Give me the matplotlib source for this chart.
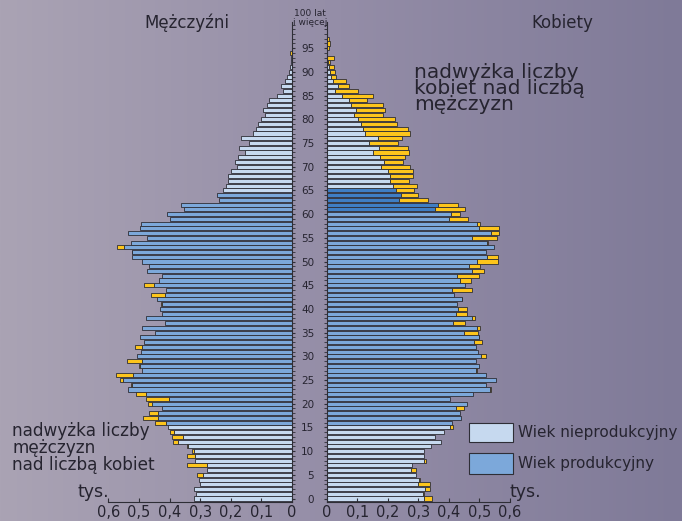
import numpy as np
import matplotlib.pyplot as plt
from matplotlib.colors import LinearSegmentedColormap

# --- DONNEES (tys. osób), wiek 0..97 ---
ages = np.arange(0, 98)

men = [0.320, 0.315, 0.321, 0.300, 0.303, 0.309, 0.277, 0.342, 0.317, 0.342,
       0.328, 0.342, 0.390, 0.393, 0.400, 0.404, 0.448, 0.488, 0.466, 0.424,
       0.470, 0.478, 0.508, 0.535, 0.527, 0.562, 0.575, 0.490, 0.500, 0.540,
       0.505, 0.494, 0.514, 0.483, 0.497, 0.448, 0.491, 0.415, 0.477, 0.423,
       0.431, 0.428, 0.442, 0.459, 0.410, 0.484, 0.436, 0.426, 0.475, 0.467,
       0.491, 0.524, 0.524, 0.570, 0.526, 0.474, 0.537, 0.498, 0.493, 0.400,
       0.408, 0.353, 0.364, 0.237, 0.244, 0.227, 0.217, 0.208, 0.208, 0.200,
       0.179, 0.186, 0.175, 0.153, 0.172, 0.139, 0.168, 0.126, 0.119, 0.111,
       0.102, 0.088, 0.096, 0.081, 0.074, 0.050, 0.028, 0.037, 0.022, 0.015,
       0.011, 0.008, 0.004, 0.002, 0.007, 0.000, 0.000, 0.000]

women = [0.345, 0.319, 0.338, 0.338, 0.305, 0.291, 0.291, 0.278, 0.325, 0.317,
         0.319, 0.341, 0.373, 0.356, 0.385, 0.414, 0.411, 0.439, 0.437, 0.449,
         0.458, 0.403, 0.478, 0.538, 0.521, 0.553, 0.520, 0.493, 0.497, 0.489,
         0.523, 0.494, 0.489, 0.509, 0.498, 0.494, 0.502, 0.452, 0.485, 0.460,
         0.458, 0.426, 0.444, 0.416, 0.476, 0.452, 0.471, 0.497, 0.515, 0.502,
         0.560, 0.562, 0.523, 0.549, 0.527, 0.557, 0.563, 0.563, 0.502, 0.461,
         0.436, 0.454, 0.430, 0.332, 0.300, 0.285, 0.294, 0.270, 0.281, 0.284,
         0.272, 0.251, 0.255, 0.268, 0.267, 0.232, 0.248, 0.273, 0.265, 0.231,
         0.222, 0.184, 0.192, 0.183, 0.133, 0.152, 0.103, 0.072, 0.062, 0.030,
         0.028, 0.024, 0.011, 0.024, 0.000, 0.008, 0.011, 0.007]

age_ticks = list(range(0, 100, 5))
x_ticks = [0, 0.1, 0.2, 0.3, 0.4, 0.5, 0.6]
x_labels = ['0', '0,1', '0,2', '0,3', '0,4', '0,5', '0,6']

# granice grup wieku (jak na rysunku)
PROD_START = 16
MEN_PROD_END = 64
WOMEN_PROD_END = 60

# --- KOLORY ---
C_LIGHT = '#c6d9ef'
C_PROD = '#7ca8da'
C_DARK = '#3f7ec4'
C_YELLOW = '#fdc51c'
C_EDGE = '#2e2e36'
C_TEXT = '#262430'

W_PX, H_PX = 682, 521
fig = plt.figure(figsize=(W_PX / 100, H_PX / 100), dpi=100)

# tło z gradientem
bg = fig.add_axes([0, 0, 1, 1], zorder=-5)
grad = np.linspace(0, 1, 256).reshape(1, -1)
cmap_bg = LinearSegmentedColormap.from_list('bg', ['#aaa3b4', '#948da7', '#7f7a98'])
bg.imshow(grad, aspect='auto', cmap=cmap_bg, extent=[0, 1, 0, 1])
bg.axis('off')

men = np.array(men)
women = np.array(women)
common = np.minimum(men, women)
men_extra = men - common
women_extra = women - common

men_cols = [C_PROD if PROD_START <= a <= MEN_PROD_END else C_LIGHT for a in ages]
women_cols = []
for a in ages:
    if PROD_START <= a <= WOMEN_PROD_END:
        women_cols.append(C_PROD)
    elif WOMEN_PROD_END < a <= MEN_PROD_END + 1:
        women_cols.append(C_DARK)
    else:
        women_cols.append(C_LIGHT)


def px_box(x0, x1, y_top, y_bot):
    return [x0 / W_PX, 1 - y_bot / H_PX, (x1 - x0) / W_PX, (y_bot - y_top) / H_PX]


y_top, y_bot = 22, 501.5
ax_l = fig.add_axes(px_box(108.3, 292, y_top, y_bot))
ax_r = fig.add_axes(px_box(326.7, 510, y_top, y_bot))

bar_h = 0.86
for ax, vals, extra, cols in [(ax_l, common, men_extra, men_cols),
                              (ax_r, common, women_extra, women_cols)]:
    ax.set_facecolor('none')
    ax.barh(ages, vals, height=bar_h, color=cols, edgecolor=C_EDGE, linewidth=0.6)
    m = extra > 0.0005
    ax.barh(ages[m], extra[m], left=vals[m], height=bar_h, color=C_YELLOW,
            edgecolor=C_EDGE, linewidth=0.6)
    ax.set_ylim(-0.63, 100.53)
    ax.set_xticks(x_ticks)
    ax.set_xticklabels(x_labels, fontsize=10.5, color=C_TEXT)
    ax.tick_params(axis='x', direction='in', length=3, pad=2.5, color=C_EDGE)
    ax.set_yticks(age_ticks)
    ax.set_yticks(range(0, 101), minor=True)
    for s in ax.spines.values():
        s.set_color(C_EDGE)
        s.set_linewidth(0.8)
    ax.spines['top'].set_visible(False)

ax_l.set_xlim(0.6, 0)
ax_l.spines['left'].set_visible(False)
ax_l.yaxis.tick_right()
ax_l.tick_params(axis='y', which='both', direction='out', length=2, color=C_EDGE,
                 labelright=False)

ax_r.set_xlim(0, 0.6)
ax_r.spines['right'].set_visible(False)
ax_r.set_yticklabels([str(a) for a in age_ticks], fontsize=7.5, color=C_TEXT)
ax_r.tick_params(axis='y', which='both', direction='out', length=2, pad=7, color=C_EDGE)

# --- TEKSTY ---
fig.text(187 / W_PX, 1 - 23 / H_PX, 'Mężczyźni', ha='center', va='center',
         fontsize=12, color=C_TEXT)
fig.text(562 / W_PX, 1 - 23 / H_PX, 'Kobiety', ha='center', va='center',
         fontsize=12, color=C_TEXT)
fig.text(310 / W_PX, 1 - 18 / H_PX, '100 lat\ni więcej', ha='center', va='center',
         fontsize=6.5, color=C_TEXT, linespacing=0.95)

fig.text(414 / W_PX, 1 - 88 / H_PX, 'nadwyżka liczby\nkobiet nad liczbą\nmężczyzn',
         ha='left', va='center', fontsize=14.5, color=C_TEXT, linespacing=0.8)
fig.text(12 / W_PX, 1 - 448 / H_PX, 'nadwyżka liczby\nmężczyzn\nnad liczbą kobiet',
         ha='left', va='center', fontsize=12.2, color=C_TEXT, linespacing=0.92)

fig.text(93 / W_PX, 1 - 492 / H_PX, 'tys.', ha='center', va='center',
         fontsize=12.5, color=C_TEXT)
fig.text(525 / W_PX, 1 - 492 / H_PX, 'tys.', ha='center', va='center',
         fontsize=12.5, color=C_TEXT)

# legenda
for (y0, y1, col, lab) in [(423, 442, C_LIGHT, 'Wiek nieprodukcyjny'),
                           (453, 474, C_PROD, 'Wiek produkcyjny')]:
    r = plt.Rectangle((469 / W_PX, 1 - y1 / H_PX), 44 / W_PX, (y1 - y0) / H_PX,
                      transform=fig.transFigure, facecolor=col, edgecolor=C_EDGE,
                      linewidth=0.8)
    fig.patches.append(r)
    fig.text(518 / W_PX, 1 - (y0 + y1) / 2 / H_PX, lab, ha='left', va='center',
             fontsize=11, color=C_TEXT)

fig.savefig('out.png', dpi=100)
